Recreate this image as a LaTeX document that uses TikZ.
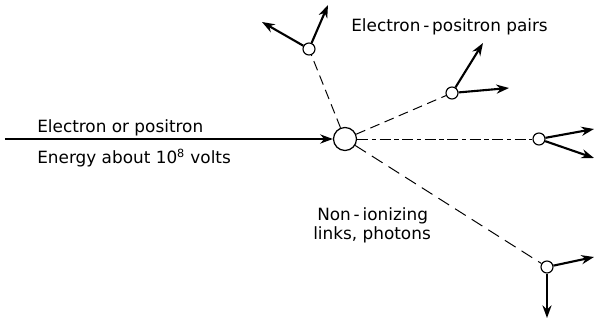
\documentclass[tikz,border=0pt]{standalone}
\usepackage{fontspec}
\setmainfont{DejaVu Sans}
\usetikzlibrary{arrows.meta}

\begin{document}
\begin{tikzpicture}[x=0.025cm,y=-0.025cm,
  >={Stealth[length=9pt,width=6.5pt]},
  noyau/.style={circle,draw,line width=0.9pt,fill=white,inner sep=0pt,minimum size=0.575cm},
  paire/.style={circle,draw,line width=0.8pt,fill=white,inner sep=0pt,minimum size=0.3cm},
  trace/.style={->,line width=1.5pt},
  photon/.style={line width=0.7pt,dash pattern=on 7pt off 4pt},
  texte/.style={font=\fontsize{12}{14}\selectfont,inner sep=0pt}]
\useasboundingbox (0,0) rectangle (595,321);

%gerbe
\node[noyau] (c0) at (345,139) {};
\node[paire] (a) at (309,49) {};
\node[paire] (b) at (452,93) {};
\node[paire] (c) at (539,139) {};
\node[paire] (d) at (547,267) {};

%extremites des traces
\coordinate (depart) at (5,139);
\coordinate (a1) at (262,22);
\coordinate (a2) at (328,5);
\coordinate (b1) at (483,43);
\coordinate (b2) at (509,88);
\coordinate (c1) at (594,129);
\coordinate (c2) at (594,158);
\coordinate (d1) at (594,257);
\coordinate (d2) at (547,318);

\draw[trace,line width=1.9pt] (depart) -- (c0);
\draw[photon] (c0) -- (a);
\draw[photon] (c0) -- (b);
\draw[line width=0.7pt,dash pattern=on 8pt off 2.5pt on 3pt off 2.5pt] (c0) -- (c);
\draw[photon,dash pattern=on 9pt off 5pt] (c0) -- (d);

\draw[trace] (a) -- (a1);
\draw[trace] (a) -- (a2);
\draw[trace] (b) -- (b1);
\draw[trace] (b) -- (b2);
\draw[trace] (c) -- (c1);
\draw[trace] (c) -- (c2);
\draw[trace] (d) -- (d1);
\draw[trace] (d) -- (d2);

%etiquettes
\node[texte,anchor=base west] (lbl1) at (37,133) {Electron or positron};
\node[texte,anchor=base west] (lbl2) at (37,164) {Energy about 10\textsuperscript{8} volts};
\node[texte,anchor=base west] (lbl3) at (351,32) {Electron\,-\,positron pairs};
\node[texte,anchor=base west] (lbl4) at (317,221) {Non\,-\,ionizing};
\node[texte,anchor=base west] (lbl5) at (313,240) {links, photons};

\end{tikzpicture}
\end{document}
